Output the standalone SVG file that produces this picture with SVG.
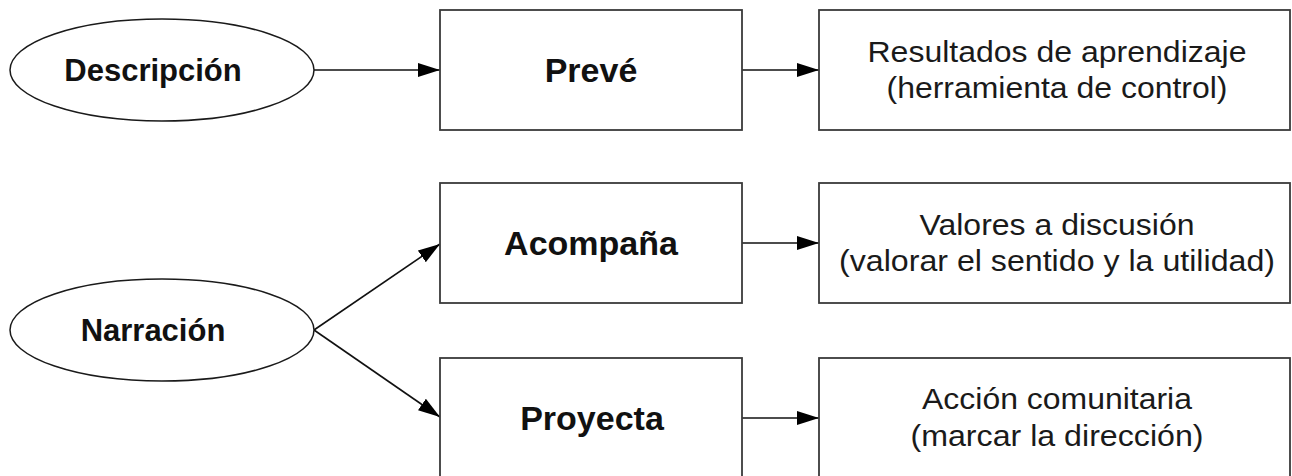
<svg xmlns="http://www.w3.org/2000/svg" width="1292" height="476" viewBox="0 0 1292 476">
<style>
.bg{fill:#ffffff}
.box{fill:#ffffff;stroke:#3a3a3a;stroke-width:1.8}
.ell{fill:#ffffff;stroke:#1a1a1a;stroke-width:1.5}
.bold{font-family:"Liberation Sans",Arial,sans-serif;font-weight:bold;fill:#111;text-anchor:middle}
.reg{font-family:"Liberation Sans",Arial,sans-serif;font-size:29px;fill:#1a1a1a;text-anchor:middle}
.conn{stroke:#111;stroke-width:1.6;fill:none;marker-end:url(#arrow)}
</style>
<defs>
<marker id="arrow" markerUnits="userSpaceOnUse" markerWidth="23" markerHeight="15" refX="22" refY="7" orient="auto">
<path d="M0,0 L22,7 L0,14 z" fill="#000"/>
</marker>
</defs>
<rect class="bg" x="0" y="0" width="1292" height="476"/>
<g id="connectors">
<line class="conn" x1="314" y1="70" x2="440" y2="70"/>
<line class="conn" x1="742" y1="70" x2="819" y2="70"/>
<line class="conn" x1="314" y1="330" x2="440" y2="244"/>
<line class="conn" x1="314" y1="330" x2="440" y2="417"/>
<line class="conn" x1="742" y1="243" x2="819" y2="243"/>
<line class="conn" x1="742" y1="418" x2="819" y2="418"/>
</g>
<g id="descripcion">
<ellipse class="ell" cx="162" cy="70" rx="152" ry="51"/>
<text class="bold" x="153" y="81" font-size="31">Descripción</text>
</g>
<g id="preve">
<rect class="box" x="440" y="10" width="302" height="120"/>
<text class="bold" x="591" y="82" font-size="34">Prevé</text>
</g>
<g id="resultados">
<rect class="box" x="819" y="10" width="471" height="120"/>
<text class="reg" x="1057" y="62" textLength="379" lengthAdjust="spacingAndGlyphs">Resultados de aprendizaje</text>
<text class="reg" x="1057" y="98" textLength="341" lengthAdjust="spacingAndGlyphs">(herramienta de control)</text>
</g>
<g id="narracion">
<ellipse class="ell" cx="162" cy="330" rx="152" ry="51"/>
<text class="bold" x="153" y="341" font-size="31">Narración</text>
</g>
<g id="acompana">
<rect class="box" x="440" y="183" width="302" height="120"/>
<text class="bold" x="591" y="255" font-size="34">Acompaña</text>
</g>
<g id="valores">
<rect class="box" x="819" y="183" width="471" height="120"/>
<text class="reg" x="1057" y="235" textLength="275" lengthAdjust="spacingAndGlyphs">Valores a discusión</text>
<text class="reg" x="1057" y="271" textLength="436" lengthAdjust="spacingAndGlyphs">(valorar el sentido y la utilidad)</text>
</g>
<g id="proyecta">
<rect class="box" x="440" y="358" width="302" height="120"/>
<text class="bold" x="592" y="430" font-size="34">Proyecta</text>
</g>
<g id="accion">
<rect class="box" x="819" y="358" width="471" height="120"/>
<text class="reg" x="1057" y="409" textLength="270" lengthAdjust="spacingAndGlyphs">Acción comunitaria</text>
<text class="reg" x="1057" y="446" textLength="293" lengthAdjust="spacingAndGlyphs">(marcar la dirección)</text>
</g>
</svg>
